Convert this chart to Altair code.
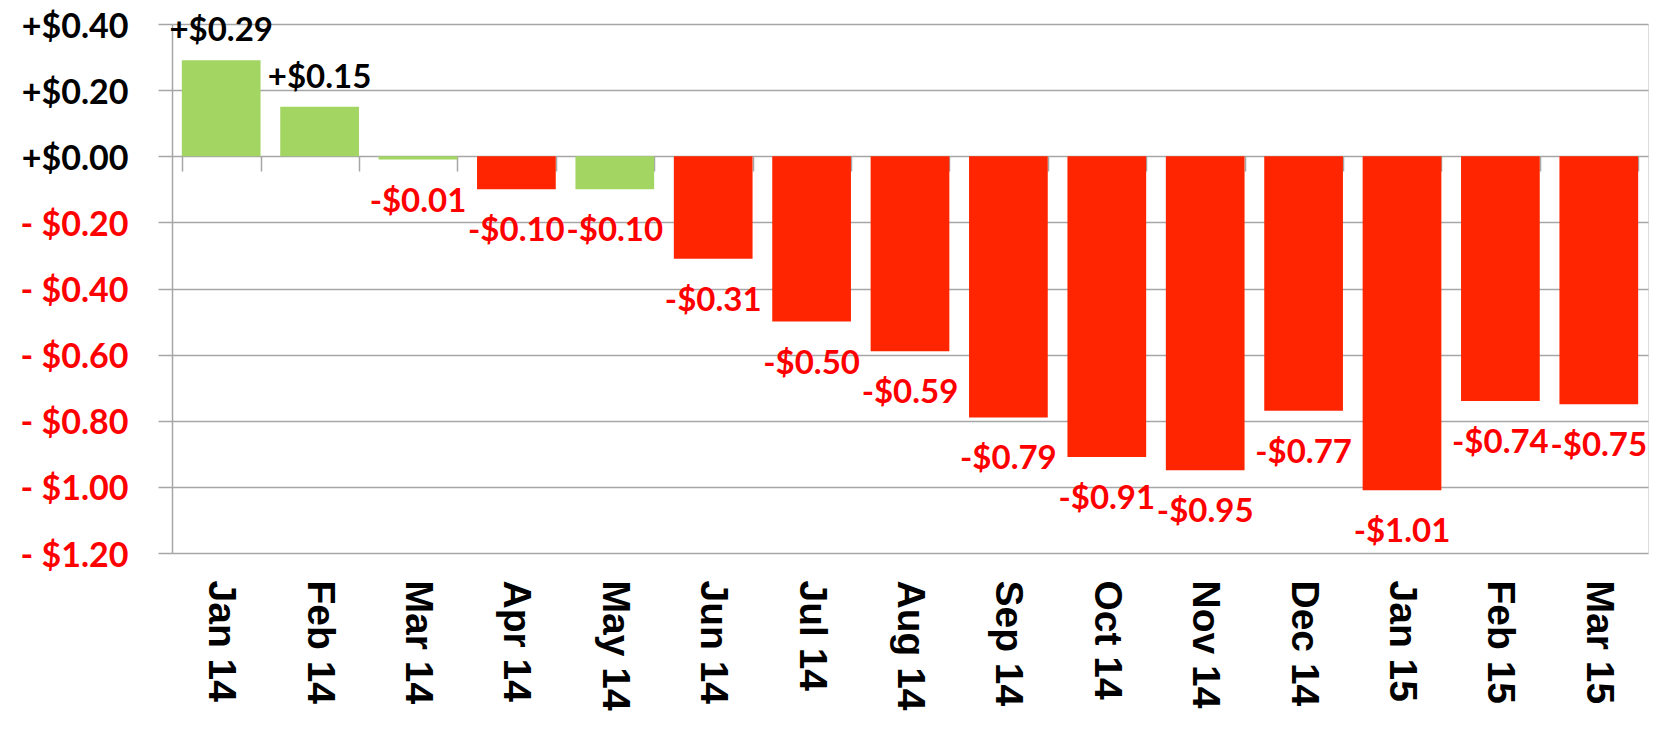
import altair as alt
import pandas as pd

months = ["Jan 14", "Feb 14", "Mar 14", "Apr 14", "May 14", "Jun 14", "Jul 14", "Aug 14",
          "Sep 14", "Oct 14", "Nov 14", "Dec 14", "Jan 15", "Feb 15", "Mar 15"]
values = [0.29, 0.15, -0.01, -0.10, -0.10, -0.31, -0.50, -0.59,
          -0.79, -0.91, -0.95, -0.77, -1.01, -0.74, -0.75]
status = ["up", "up", "up", "down", "up", "down", "down", "down",
          "down", "down", "down", "down", "down", "down", "down"]
y_ticks = [0.40, 0.20, 0.00, -0.20, -0.40, -0.60, -0.80, -1.00, -1.20]

df = pd.DataFrame({"month": months, "value": values, "status": status})

GRID = "#A6A6A6"
LABEL_FONT = "Lato"

y_scale = alt.Scale(domain=[-1.2, 0.4], nice=False)
x_scale = alt.Scale(paddingInner=0.2, paddingOuter=0.1)

base = alt.Chart(df).transform_calculate(
    lbl="datum.value >= 0 ? '+$' + format(datum.value, '.2f') : '-$' + format(-datum.value, '.2f')"
)

bars = base.mark_bar().encode(
    x=alt.X("month:N", sort=months, scale=x_scale,
            axis=alt.Axis(title=None, labelAngle=90, labelFont="Liberation Sans",
                          labelFontSize=39, labelFontWeight="bold", labelColor="black",
                          labelPadding=27, ticks=False, domain=False, grid=False,
                          labelAlign="left", labelBaseline="middle")),
    y=alt.Y("value:Q", scale=y_scale,
            axis=alt.Axis(title=None, values=y_ticks, grid=True, gridColor=GRID,
                          gridWidth=1.5, domainColor=GRID, domainWidth=1.5,
                          tickColor=GRID, tickWidth=1.5, tickSize=14,
                          labelFont=LABEL_FONT, labelFontSize=34, labelFontWeight="bold",
                          labelPadding=30, labelOffset=3,
                          labelExpr="datum.value >= 0 ? '+$' + format(datum.value, '.2f') : '- $' + format(-datum.value, '.2f')",
                          labelColor=alt.condition("datum.value < 0", alt.value("#FF0000"), alt.value("black")))),
    color=alt.Color("status:N", scale=alt.Scale(domain=["up", "down"], range=["#A2D561", "#FF2500"]),
                    legend=None),
)

ticks_axis = base.mark_bar(opacity=0).encode(
    x=alt.X("month:N", sort=months, scale=x_scale,
            axis=alt.Axis(title=None, orient="top", offset=-147, labels=False, domain=False,
                          grid=False, ticks=True, tickBand="extent", tickSize=15,
                          tickColor=GRID, tickWidth=1.5)),
    y=alt.Y("value:Q", scale=y_scale, axis=None),
)

pos_text = base.transform_filter("datum.value >= 0").mark_text(
    font=LABEL_FONT, fontSize=33, fontWeight="bold", color="black",
    baseline="alphabetic", align="center", dy=-19
).encode(
    x=alt.X("month:N", sort=months, axis=None),
    y=alt.Y("value:Q", scale=y_scale, axis=None),
    text="lbl:N",
)

neg_text = base.transform_filter("datum.value < 0").mark_text(
    font=LABEL_FONT, fontSize=33, fontWeight="bold", color="#FF0000",
    baseline="alphabetic", align="center", dy=52
).encode(
    x=alt.X("month:N", sort=months, axis=None),
    y=alt.Y("value:Q", scale=y_scale, axis=None),
    text="lbl:N",
)

chart = alt.layer(bars, ticks_axis, pos_text, neg_text).resolve_axis(
    x="independent", y="independent"
).properties(
    width=1476, height=529,
    autosize=alt.AutoSizeParams(type="none"),
    padding={"left": 164, "top": 16, "right": 7, "bottom": 171},
).configure_view(stroke=None).configure(background="white")

chart.save("out.html", embed_options={"renderer": "svg", "actions": False})
